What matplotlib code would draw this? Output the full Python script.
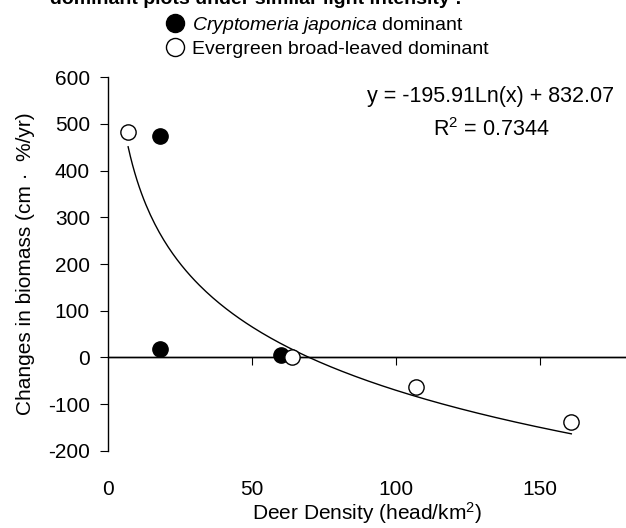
import numpy as np
import matplotlib
matplotlib.use("Agg")
import matplotlib.pyplot as plt
from matplotlib.lines import Line2D

plt.rcParams['font.family'] = ['Liberation Sans', 'DejaVu Sans']
plt.rcParams['mathtext.fontset'] = 'custom'
plt.rcParams['mathtext.rm'] = 'Liberation Sans'
plt.rcParams['mathtext.it'] = 'Liberation Sans:italic'
plt.rcParams['axes.unicode_minus'] = False

# data
cj_density = [18, 18, 60]
cj_change = [474, 18, 5]
eb_density = [7, 64, 107, 161]
eb_change = [483, 2, -63, -138]

# log fit shown on the chart
fit_a, fit_b = -195.91, 832.07
fit_r2 = 0.7344
fit_range = (7, 161)

fig = plt.figure(figsize=(6.26, 5.28), dpi=100)
ax = fig.add_axes([0.1725, 0.146, 0.8275, 0.708])

xs = np.linspace(fit_range[0], fit_range[1], 200)
ax.plot(xs, fit_a * np.log(xs) + fit_b, color='black', lw=1)

ax.plot(cj_density, cj_change, 'o', ms=11, mfc='black', mec='black',
        clip_on=False, zorder=3)
ax.plot(eb_density, eb_change, 'o', ms=11, mfc='white', mec='black',
        mew=1, clip_on=False, zorder=3)

ax.set_xlim(0, 180)
ax.set_ylim(-200, 600)
ax.set_yticks(range(-200, 601, 100))
ax.set_xticks([0, 50, 100, 150])

for s in ['top', 'right', 'bottom']:
    ax.spines[s].set_visible(False)
ax.spines['left'].set_linewidth(1)
ax.tick_params(axis='y', direction='out', length=6, labelsize=15, pad=7)
ax.tick_params(axis='x', length=0, labelsize=15, pad=21)

# x axis line crossing at y = 0 with downward ticks
sec = ax.secondary_xaxis(0.25)
sec.set_xticks([50, 100, 150])
sec.tick_params(axis='x', direction='out', length=6, labelbottom=False)
sec.spines['bottom'].set_linewidth(1)
ax.axhline(0, color='black', lw=1)

ax.set_ylabel('Changes in biomass (cm \u00b7  %/yr)', fontsize=15, labelpad=9)
ax.set_xlabel('Deer Density (head/km$^2$)', fontsize=15, labelpad=1)

ax.text(0.739, 0.903, 'y = -195.91Ln(x) + 832.07\nR$^2$ = %.4f' % fit_r2,
        transform=ax.transAxes, ha='center', va='center',
        multialignment='center', fontsize=15.5, linespacing=1.6)

fig.text(50 / 626, 1 - 4 / 528, 'dominant plots under similar light intensity :',
         fontsize=14, fontweight='bold', va='baseline')

handles = [
    Line2D([], [], ls='', marker='o', ms=13, mfc='black', mec='black'),
    Line2D([], [], ls='', marker='o', ms=13, mfc='white', mec='black'),
]
labels = ['$\\it{Cryptomeria\\ japonica}$ dominant', 'Evergreen broad-leaved dominant']
fig.legend(handles, labels, loc='upper left', bbox_to_anchor=(0.239, 0.998),
           frameon=False, fontsize=14, handletextpad=0.3, labelspacing=0.25,
           borderpad=0.2, handlelength=1.2)

fig.savefig('out.png', dpi=100)
